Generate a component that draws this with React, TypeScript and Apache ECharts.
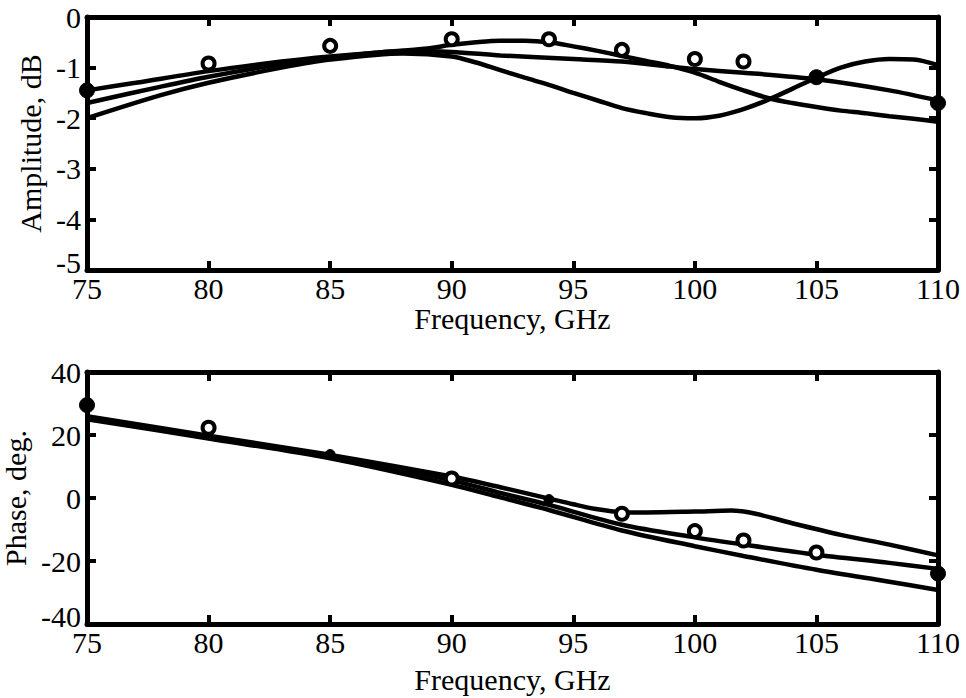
import React, { useEffect, useRef } from "react";
import * as echarts from "echarts";

// ---- Data ----
const freqTicks = [75, 80, 85, 90, 95, 100, 105, 110];

// Amplitude, dB – three simulated curves
const ampFreqA = [75, 77, 80, 83, 85, 87, 89, 90, 91, 92, 93, 94, 95, 96, 97, 98, 99, 100, 101, 102, 103, 104, 105, 106, 107, 108, 109, 110];
const ampA = [-1.45, -1.3, -1.07, -0.88, -0.78, -0.7, -0.62, -0.55, -0.5, -0.47, -0.47, -0.5, -0.58, -0.67, -0.77, -0.87, -0.97, -1.1, -1.28, -1.45, -1.6, -1.7, -1.78, -1.85, -1.9, -1.96, -2.01, -2.07];
const ampFreqB = [75, 78, 80, 83, 85, 87, 88, 90, 92, 95, 97, 99, 100, 102, 105, 108, 110];
const ampB = [-1.7, -1.38, -1.18, -0.93, -0.8, -0.7, -0.67, -0.69, -0.76, -0.83, -0.88, -0.98, -1.03, -1.1, -1.23, -1.45, -1.65];
const ampFreqC = [75, 78, 80, 83, 85, 88, 90, 91, 92, 93, 94, 95, 96, 97, 98, 99, 100, 101, 102, 103, 104, 105, 106, 107, 108, 109, 110];
const ampC = [-2.0, -1.55, -1.3, -1.0, -0.84, -0.72, -0.78, -0.9, -1.05, -1.2, -1.34, -1.5, -1.65, -1.8, -1.9, -1.98, -2.0, -1.95, -1.82, -1.64, -1.42, -1.2, -1.0, -0.88, -0.83, -0.84, -0.95];

// Amplitude measured points
const ampMeasFreq = [75, 80, 85, 90, 94, 97, 100, 102, 105, 110];
const ampMeas = [-1.45, -0.92, -0.57, -0.44, -0.44, -0.65, -0.83, -0.88, -1.19, -1.7];
const ampMeasFilled = [true, false, false, false, false, false, false, false, true, true];

// Phase, deg – three simulated curves
const phFreqA = [75, 80, 85, 90, 92, 94, 95, 96, 97, 98, 100, 101.5, 102.5, 104, 106, 108, 110];
const phA = [26, 19.8, 13.7, 6.8, 3.4, -0.2, -2, -3.6, -4.5, -4.6, -4.3, -4.0, -5.0, -8.0, -11.7, -14.8, -18.2];
const phFreqB = [75, 80, 85, 90, 92, 94, 97, 100, 102, 105, 108, 110];
const phB = [25.5, 19.3, 13.3, 5.6, 1.6, -2.2, -8.5, -12.5, -14.8, -18.0, -20.6, -22.5];
const phFreqC = [75, 80, 85, 90, 92, 94, 97, 100, 102, 105, 108, 110];
const phC = [25, 18.9, 12.6, 4.2, 0.2, -3.8, -10.3, -15.3, -18.4, -22.8, -26.6, -29.2];

// Phase measured points
const phMeasFreq = [75, 80, 85, 90, 94, 97, 100, 102, 105, 110];
const phMeas = [29.5, 22.3, 13.8, 6.2, -0.5, -5, -10.5, -13.5, -17.3, -24];
const phMeasFilled = [true, false, true, false, true, false, false, false, false, true];

const FONT = "Liberation Serif";

function zip(xs: number[], ys: number[]) {
  return xs.map((x, i) => [x, ys[i]]);
}

export default function App() {
  const ref = useRef<HTMLDivElement>(null);

  useEffect(() => {
    document.body.style.margin = "0";
    const chart = echarts.init(ref.current!, undefined, { renderer: "svg" });

    const axisLine = { show: true, onZero: false, lineStyle: { color: "#000", width: 5 } };
    const tick = { show: true, inside: true, length: 9, lineStyle: { color: "#000", width: 4 } };
    const labelStyle = { color: "#000", fontFamily: FONT, fontSize: 30 };
    const nameStyle = { color: "#000", fontFamily: FONT, fontSize: 30 };

    const xMain = (gridIndex: number, gap: number) => ({
      type: "value",
      gridIndex,
      min: freqTicks[0],
      max: freqTicks[freqTicks.length - 1],
      interval: 5,
      position: "bottom",
      name: "Frequency, GHz",
      nameLocation: "middle",
      nameGap: gap,
      nameTextStyle: nameStyle,
      axisLine,
      axisTick: tick,
      axisLabel: { ...labelStyle, margin: 3 },
      splitLine: { show: false },
    });
    const xTop = (gridIndex: number) => ({
      type: "value",
      gridIndex,
      min: freqTicks[0],
      max: freqTicks[freqTicks.length - 1],
      interval: 5,
      position: "top",
      axisLine,
      axisTick: tick,
      axisLabel: { show: false },
      splitLine: { show: false },
    });
    const yMain = (gridIndex: number, min: number, max: number, interval: number, name: string, gap: number) => ({
      type: "value",
      gridIndex,
      min,
      max,
      interval,
      position: "left",
      name,
      nameLocation: "middle",
      nameGap: gap,
      nameTextStyle: nameStyle,
      axisLine,
      axisTick: tick,
      axisLabel: {
        ...labelStyle,
        margin: 6,
        formatter: (v: number) => (v === min ? "{lo|" + v + "}" : String(v)),
        rich: { lo: { fontFamily: FONT, fontSize: 30, color: "#000", padding: [0, 0, 16, 0] } },
      },
      splitLine: { show: false },
    });
    const yRight = (gridIndex: number, min: number, max: number, interval: number) => ({
      type: "value",
      gridIndex,
      min,
      max,
      interval,
      position: "right",
      axisLine,
      axisTick: tick,
      axisLabel: { show: false },
      splitLine: { show: false },
    });

    const lineSeries = (xAxisIndex: number, yAxisIndex: number, data: number[][]) => ({
      type: "line",
      xAxisIndex,
      yAxisIndex,
      data,
      smooth: 0.3,
      showSymbol: false,
      symbol: "none",
      lineStyle: { color: "#000", width: 4.5 },
      z: 2,
    });
    const measSeries = (xAxisIndex: number, yAxisIndex: number, xs: number[], ys: number[], filled: boolean[]) => ({
      type: "scatter",
      xAxisIndex,
      yAxisIndex,
      symbol: "circle",
      symbolSize: 12,
      data: xs.map((x, i) => ({
        value: [x, ys[i]],
        symbolSize: filled[i] ? (i === 0 || i === xs.length - 1 || ys === ampMeas ? 15 : 10) : 12,
        itemStyle: filled[i]
          ? { color: "#000", borderColor: "#000", borderWidth: 1, opacity: 1 }
          : { color: "#fff", borderColor: "#000", borderWidth: 4, opacity: 1 },
      })),
      z: 3,
    });

    chart.setOption({
      animation: false,
      backgroundColor: "#fff",
      textStyle: { fontFamily: FONT },
      grid: [
        { left: 87, right: 28, top: 17, height: 253, outerBoundsMode: "none", containLabel: false },
        { left: 87, right: 28, top: 372, height: 252, outerBoundsMode: "none", containLabel: false },
      ],
      xAxis: [xMain(0, 32), xTop(0), xMain(1, 40), xTop(1)],
      yAxis: [
        yMain(0, -5, 0, 1, "Amplitude, dB", 38),
        yRight(0, -5, 0, 1),
        yMain(1, -40, 40, 20, "Phase, deg.", 47),
        yRight(1, -40, 40, 20),
      ],
      series: [
        lineSeries(0, 0, zip(ampFreqA, ampA)),
        lineSeries(0, 0, zip(ampFreqB, ampB)),
        lineSeries(0, 0, zip(ampFreqC, ampC)),
        measSeries(0, 0, ampMeasFreq, ampMeas, ampMeasFilled),
        lineSeries(2, 2, zip(phFreqA, phA)),
        lineSeries(2, 2, zip(phFreqB, phB)),
        lineSeries(2, 2, zip(phFreqC, phC)),
        measSeries(2, 2, phMeasFreq, phMeas, phMeasFilled),
      ],
    });

    return () => chart.dispose();
  }, []);

  return <div ref={ref} style={{ width: 966, height: 698 }} />;
}
